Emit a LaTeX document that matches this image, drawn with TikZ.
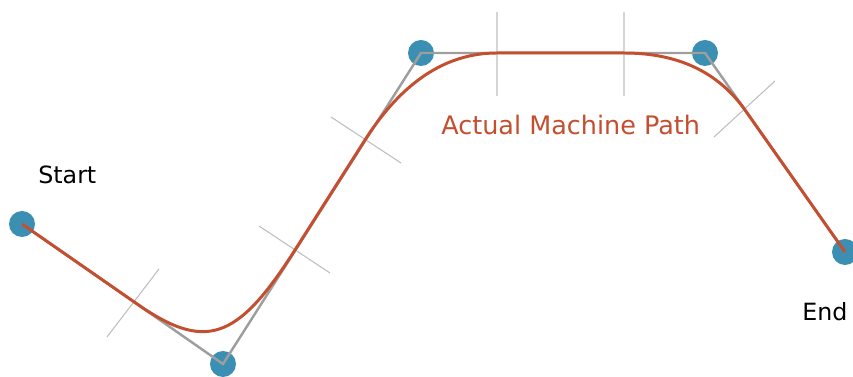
\documentclass[tikz,border=0pt]{standalone}
\usepackage{fontspec}
\setmainfont{DejaVu Sans}
\definecolor{dotblue}{RGB}{58,143,178}
\definecolor{pathred}{RGB}{196,78,48}
\definecolor{guidegray}{RGB}{158,158,158}
\definecolor{tickgray}{RGB}{190,190,190}
\begin{document}
\begin{tikzpicture}[x=0.02cm,y=-0.02cm,
  dot/.style={circle,fill=dotblue,inner sep=0pt,minimum size=0.52cm},
  guide/.style={guidegray,line width=1.4pt},
  tickline/.style={tickgray,line width=0.6pt},
  machine/.style={pathred,line width=1.7pt},
  caption/.style={font=\fontsize{13.5pt}{16pt}\selectfont,anchor=base west,inner sep=0pt}]
\useasboundingbox (0,0) rectangle (853,377);

\node[dot] (startpt) at (22,224) {};
\node[dot] (c1) at (223,364) {};
\node[dot] (c2) at (421,53) {};
\node[dot] (c3) at (705,53) {};
\node[dot] (endpt) at (845,252) {};

\node[caption] (starttext) at (38,184) {Start};
\node[caption] (endtext) at (802,321) {End};
\node[caption,text=pathred,font=\fontsize{14.5pt}{17pt}\selectfont] (pathtext) at (441,135) {Actual Machine Path};

% blend points and tick ends
\coordinate (m1) at (135,302.5);
\coordinate (m2) at (295,250);
\coordinate (m3) at (365,140);
\coordinate (m4) at (497,53);
\coordinate (m5) at (624,53);
\coordinate (m6) at (745,110);

\coordinate (t11) at (159,269);
\coordinate (t12) at (107,337);
\coordinate (t21) at (259,226);
\coordinate (t22) at (330,273);
\coordinate (t31) at (331,117);
\coordinate (t32) at (401,163);
\coordinate (t41) at (497,12);
\coordinate (t42) at (497,96);
\coordinate (t51) at (624,12);
\coordinate (t52) at (624,96);
\coordinate (t61) at (775,81);
\coordinate (t62) at (714,137);

% control points of the rounded corners
\coordinate (k11) at (205,352);
\coordinate (k12) at (237,341);
\coordinate (k21) at (402,82);
\coordinate (k22) at (446,53);
\coordinate (k31) at (678,53);
\coordinate (k32) at (718,72);

\draw[guide] (startpt.center) -- (c1.center) -- (c2.center) -- (c3.center) -- (endpt.center);
\draw[tickline] (t11) -- (t12) (t21) -- (t22) (t31) -- (t32);
\draw[tickline] (t41) -- (t42) (t51) -- (t52) (t61) -- (t62);
\draw[machine] (startpt.center) -- (m1) .. controls (k11) and (k12) .. (m2) -- (m3)
  .. controls (k21) and (k22) .. (m4) -- (m5) .. controls (k31) and (k32) .. (m6) -- (endpt.center);
\end{tikzpicture}
\end{document}
